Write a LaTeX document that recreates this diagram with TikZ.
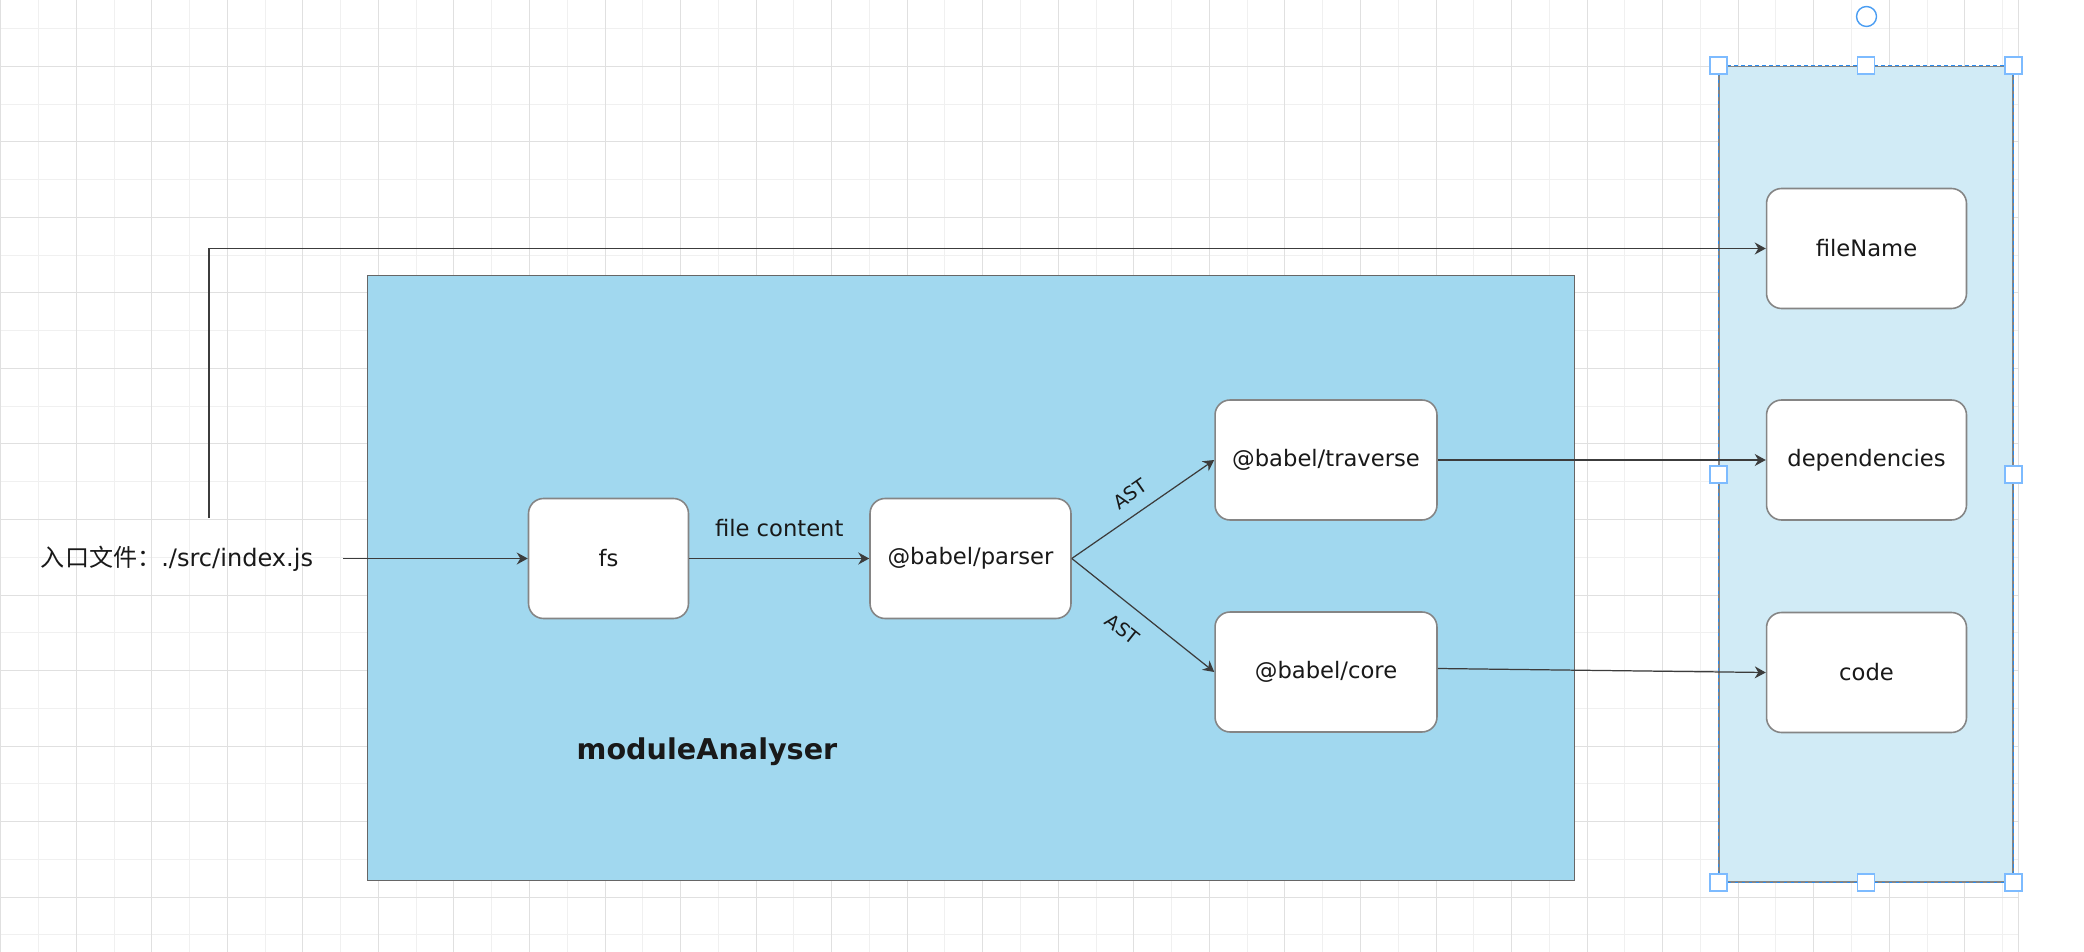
\documentclass[tikz,border=0pt]{standalone}
\usepackage{fontspec}
\setmainfont{DejaVu Sans}
\newfontfamily\cjk{Noto Sans CJK SC}
\usetikzlibrary{arrows.meta}
\definecolor{modblue}{HTML}{A1D8EF}
\definecolor{panelblue}{HTML}{D1EBF6}
\definecolor{boxline}{HTML}{858585}
\definecolor{wirecol}{HTML}{3C3C3C}
\definecolor{selblue}{HTML}{2A8CF0}
\definecolor{handleblue}{HTML}{7DBBFF}
\definecolor{gridminor}{HTML}{F0F0F0}
\definecolor{gridmajor}{HTML}{E0E0E0}

\tikzset{
  block/.style={draw=boxline, fill=white, rounded corners=0.3cm, line width=0.9pt,
    minimum width=4cm, minimum height=2.4cm, inner sep=0pt,
    font=\fontsize{12.9}{15}\selectfont, text=black!90},
  wire/.style={draw=wirecol, line width=0.7pt},
  handle/.style={draw=handleblue, fill=white, line width=1pt, minimum size=0.34cm, inner sep=0pt},
  edgelabel/.style={font=\fontsize{10.8}{13}\selectfont, text=black!90},
}

\begin{document}
\begin{tikzpicture}[x=0.02cm, y=-0.02cm, >={Stealth[length=0.22cm,width=0.24cm]}]

    \useasboundingbox (0,0) rectangle (2084,952);
    \foreach \i in {1,3,...,53} \draw[gridminor, line width=0.55pt] ({0.7+37.77*\i},0) -- ++(0,952);
    \foreach \j in {1,3,...,25} \draw[gridminor, line width=0.55pt] (0,{-9.3+37.77*\j}) -- (2018,{-9.3+37.77*\j});
    \foreach \i in {0,2,...,52} \draw[gridmajor, line width=0.55pt] ({0.7+37.77*\i},0) -- ++(0,952);
    \foreach \j in {2,4,...,24} \draw[gridmajor, line width=0.55pt] (0,{-9.3+37.77*\j}) -- (2018,{-9.3+37.77*\j});
    \draw[gridmajor, line width=0.55pt] (2018,0) -- (2018,952);

    \node[draw=boxline, fill=panelblue, line width=0.8pt, minimum width=5.88cm, minimum height=16.31cm] (panel) at (1866,474.25) {};
    \draw[selblue, line width=0.6pt, dash pattern=on 0.07cm off 0.07cm] (panel.north west) rectangle (panel.south east);
    \node[draw=black!60, fill=modblue, line width=0.6pt, minimum width=24.16cm, minimum height=12.12cm] (analyser) at (971,578) {};

    \node[minimum width=6.64cm, minimum height=1.6cm, font=\fontsize{13.7}{16}\selectfont, text=black!90] (entry) at (177,558.5) {{\cjk 入口文件：}./src/index.js};
    \node[block, minimum width=3.2cm] (fs) at (608.5,558.5) {fs};
    \node[block, minimum width=4.02cm] (parser) at (970.5,558.5) {@babel/parser};
    \node[block, minimum width=4.44cm] (traverse) at (1326,460) {@babel/traverse};
    \node[block, minimum width=4.44cm] (core) at (1326,672) {@babel/core};
    \node[block] (fileName) at (1866.5,248.5) {fileName};
    \node[block] (dependencies) at (1866.5,460) {dependencies};
    \node[block] (code) at (1866.5,672.5) {code};
    \node[font=\bfseries\fontsize{16.3}{19}\selectfont, text=black!90] (title) at (707,752) {moduleAnalyser};

    \draw[wire,->] (entry.east) -- (fs.west);
    \draw[wire,->] ([xshift=0.64cm]entry.north) |- (fileName.west);
    \draw[wire,->] (fs.east) -- node[above=0.3cm, font=\fontsize{12.9}{15}\selectfont, text=black!90] {file content} (parser.west);
    \draw[wire,->] (parser.east) -- node[edgelabel, pos=0.49, above=0.12cm, sloped] {AST} (traverse.west);
    \draw[wire,->] (parser.east) -- node[edgelabel, pos=0.46, below=0.2cm, sloped] {AST} (core.west);
    \draw[wire,->] (traverse.east) -- (dependencies.west);
    \draw[wire,->] ([yshift=0.07cm]core.east) -- (code.west);

    \foreach \a in {north west, north, north east, west, east, south west, south, south east}
        \node[handle] at (panel.\a) {};
    \node[draw=selblue!85, line width=0.8pt, circle, minimum size=0.4cm, inner sep=0pt] (rotate) at (1866.5,16.5) {};
        \end{tikzpicture}
\end{document}
